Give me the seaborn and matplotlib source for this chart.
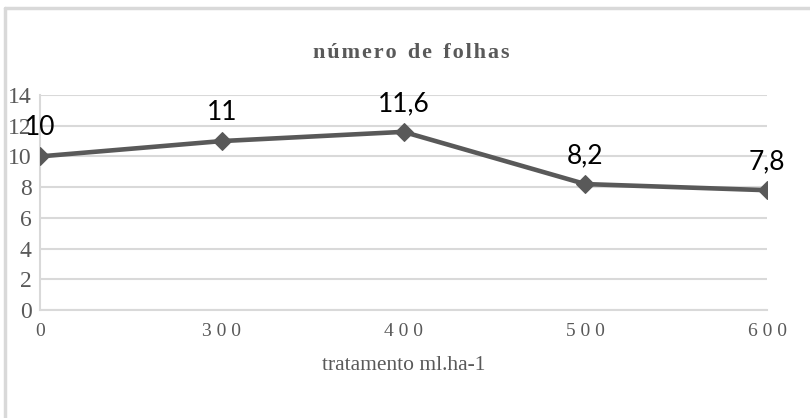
import matplotlib
matplotlib.use("Agg")
import matplotlib.pyplot as plt
import seaborn as sns
import pandas as pd
from matplotlib.lines import Line2D

# Data
tratamentos = ["0", "300", "400", "500", "600"]
folhas = [10, 11, 11.6, 8.2, 7.8]
rotulos = ["10", "11", "11,6", "8,2", "7,8"]

df = pd.DataFrame({"pos": range(len(tratamentos)), "folhas": folhas})

sns.set_style("white")
plt.rcParams["font.family"] = ["Liberation Serif", "DejaVu Serif"]

grid_color = "#d9d9d9"
text_color = "#595959"
line_color = "#595959"

fig = plt.figure(figsize=(8.1, 4.18), dpi=100)
ax = fig.add_axes([40 / 810, 1 - 310 / 418, (767 - 40) / 810, (310 - 95) / 418])

sns.lineplot(data=df, x="pos", y="folhas", ax=ax, color=line_color,
             linewidth=3.3, marker="D", markersize=9,
             markeredgecolor=line_color, zorder=3)

# Data labels
for x, y, lab in zip(df["pos"], df["folhas"], rotulos):
    ax.annotate(lab, (x, y), xytext=(0, 20.5), textcoords="offset points",
                ha="center", va="center", fontsize=19, color="black",
                family=["Lato", "DejaVu Sans"], zorder=4, annotation_clip=False)

ax.set_xlim(0, len(tratamentos) - 1)
ax.set_ylim(0, 14)
ax.set_yticks(range(0, 15, 2))
ax.set_yticklabels([str(v) for v in range(0, 15, 2)], fontsize=17, color=text_color)
ax.set_xticks(df["pos"])
ax.set_xticklabels([" ".join(t) for t in tratamentos], fontsize=14, color=text_color)
ax.tick_params(axis="both", length=0)
ax.tick_params(axis="y", pad=6)
ax.tick_params(axis="x", pad=9)

ax.grid(axis="y", color=grid_color, linewidth=1.5)
ax.set_axisbelow(True)
for side in ["top", "right"]:
    ax.spines[side].set_visible(False)
for side in ["left", "bottom"]:
    ax.spines[side].set_color(grid_color)
    ax.spines[side].set_linewidth(1.5)

ax.set_xlabel("tratamento ml.ha-1", fontsize=15.5, color=text_color, labelpad=12)
ax.set_ylabel("")

titulo = "número de folhas"
titulo_esp = "  ".join("\u200a".join(w) for w in titulo.split(" "))
fig.text(411 / 810, 1 - 53 / 418, titulo_esp, ha="center", va="center",
         fontsize=16, fontweight="bold", color=text_color)

# chart frame (only left and top edges visible)
fig.add_artist(Line2D([5 / 810, 5 / 810], [0, 1 - 8 / 418],
                      transform=fig.transFigure, color=grid_color, linewidth=2.5))
fig.add_artist(Line2D([5 / 810, 1], [1 - 8 / 418, 1 - 8 / 418],
                      transform=fig.transFigure, color=grid_color, linewidth=2.5))

fig.savefig("out.png", dpi=100)
